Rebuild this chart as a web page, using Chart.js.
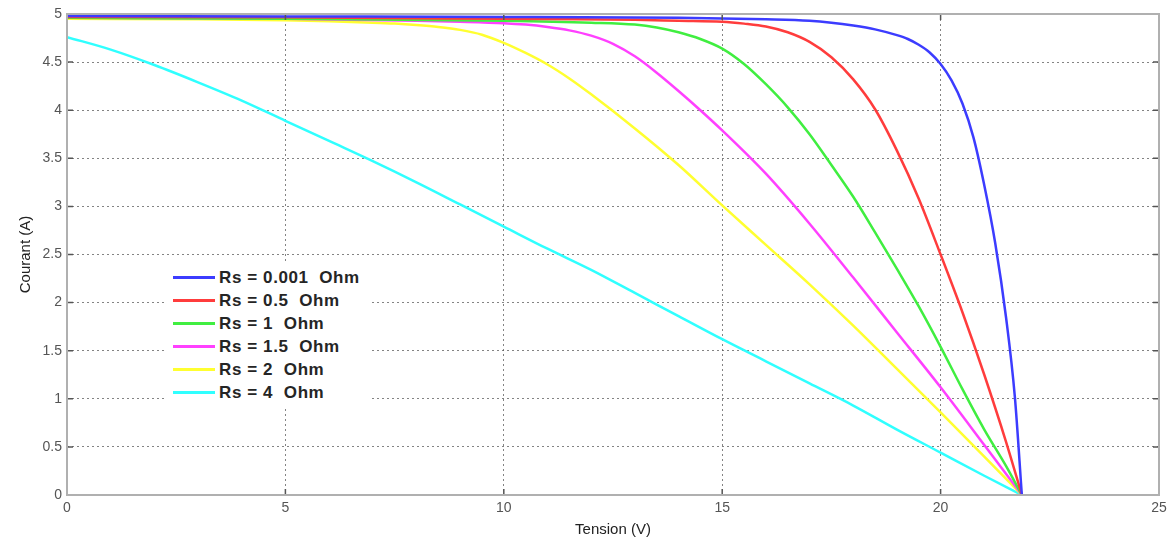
<!DOCTYPE html>
<html lang="fr">
<head>
  <meta charset="UTF-8">
  <title>Courant - Tension selon Rs</title>
  <script src="https://cdn.jsdelivr.net/npm/chart.js"></script>
  <style>
    html, body { margin: 0; padding: 0; background: #fff; }
    .wrap { position: relative; width: 1174px; height: 543px; }
    #legend {
      position: absolute;
      left: 165px;
      top: 263px;
      width: 205px;
      height: 145px;
      background: #fff;
      font-family: "Liberation Sans", Arial, sans-serif;
      font-weight: bold;
      font-size: 17px;
      letter-spacing: 0.6px;
      color: #252525;
      padding-top: 3px;
      box-sizing: border-box;
    }
    #legend .row { height: 23px; display: flex; align-items: center; white-space: pre; }
    #legend .sw { width: 42px; height: 3px; margin-left: 8px; margin-right: 4px; }
  </style>
</head>
<body>
  <div class="wrap">
    <canvas id="chart" width="1174" height="543"></canvas>
    <div id="legend"></div>
  </div>

  <script>
    // Tension (V) et courant (A) relevés sur chaque courbe
    const vRs0001 = [0, 5, 10, 14, 16, 17, 17.5, 18, 18.5, 19, 19.25, 19.5, 19.75, 20, 20.25, 20.5, 20.75, 21, 21.25, 21.5, 21.7, 21.86];
    const iRs0001 = [4.98, 4.975, 4.97, 4.96, 4.945, 4.93, 4.91, 4.88, 4.84, 4.78, 4.74, 4.68, 4.60, 4.48, 4.31, 4.07, 3.72, 3.22, 2.62, 1.84, 1.02, 0];

    const vRs05 = [0, 5, 10, 13, 14, 15, 15.5, 16, 16.5, 17, 17.5, 18, 18.5, 19, 19.5, 20, 20.5, 21, 21.5, 21.86];
    const iRs05 = [4.97, 4.965, 4.95, 4.94, 4.93, 4.92, 4.90, 4.87, 4.81, 4.71, 4.55, 4.32, 4.01, 3.58, 3.08, 2.50, 1.90, 1.25, 0.55, 0];

    const vRs1 = [0, 5, 10, 12, 13, 13.5, 14, 14.5, 15, 15.5, 16, 16.5, 17, 17.5, 18, 18.5, 19, 19.5, 20, 20.5, 21, 21.5, 21.86];
    const iRs1 = [4.96, 4.95, 4.93, 4.91, 4.89, 4.86, 4.81, 4.74, 4.64, 4.48, 4.27, 4.03, 3.75, 3.43, 3.10, 2.73, 2.35, 1.96, 1.54, 1.10, 0.68, 0.30, 0];

    const vRs15 = [0, 5, 8, 9, 10, 10.5, 11, 11.5, 12, 12.5, 13, 13.5, 14, 14.5, 15, 16, 17, 18, 19, 20, 21, 21.86];
    const iRs15 = [4.96, 4.95, 4.93, 4.92, 4.905, 4.89, 4.865, 4.83, 4.775, 4.69, 4.56, 4.39, 4.20, 4.00, 3.79, 3.34, 2.82, 2.26, 1.69, 1.12, 0.52, 0];

    const vRs2 = [0, 3, 5, 6, 7, 7.5, 8, 8.5, 9, 9.5, 10, 10.5, 11, 11.5, 12, 13, 14, 15, 16, 17, 18, 19, 20, 21, 21.86];
    const iRs2 = [4.95, 4.945, 4.935, 4.925, 4.91, 4.90, 4.885, 4.865, 4.835, 4.785, 4.70, 4.595, 4.475, 4.33, 4.165, 3.81, 3.43, 3.01, 2.60, 2.19, 1.76, 1.31, 0.86, 0.40, 0];

    const vRs4 = [0, 1, 2, 3, 4, 5, 6, 7, 8, 9, 10, 11, 12, 13, 14, 15, 16, 17, 18, 19, 20, 21, 21.86];
    const iRs4 = [4.76, 4.63, 4.47, 4.29, 4.10, 3.89, 3.68, 3.47, 3.25, 3.02, 2.79, 2.56, 2.34, 2.10, 1.86, 1.62, 1.39, 1.16, 0.93, 0.68, 0.44, 0.20, 0];

    const labels = ['Rs = 0.001  Ohm', 'Rs = 0.5  Ohm', 'Rs = 1  Ohm', 'Rs = 1.5  Ohm', 'Rs = 2  Ohm', 'Rs = 4  Ohm'];
    const colors = ['#3c3cff', '#ff3c3c', '#40ee40', '#ff40ff', '#ffff30', '#30ffff'];
    const volts = [vRs0001, vRs05, vRs1, vRs15, vRs2, vRs4];
    const currents = [iRs0001, iRs05, iRs1, iRs15, iRs2, iRs4];

    // cadre gris + petites graduations intérieures façon matlab
    const framePlugin = {
      id: 'frame',
      afterDraw(chart) {
        const { ctx, chartArea: a, scales } = chart;
        ctx.save();
        ctx.strokeStyle = '#555';
        ctx.lineWidth = 1.5;
        ctx.beginPath();
        scales.y.ticks.forEach(t => {
          const y = scales.y.getPixelForValue(t.value);
          ctx.moveTo(a.left, y); ctx.lineTo(a.left + 6, y);
          ctx.moveTo(a.right, y); ctx.lineTo(a.right - 6, y);
        });
        scales.x.ticks.forEach(t => {
          const x = scales.x.getPixelForValue(t.value);
          ctx.moveTo(x, a.bottom); ctx.lineTo(x, a.bottom - 6);
          ctx.moveTo(x, a.top); ctx.lineTo(x, a.top + 6);
        });
        ctx.stroke();
        ctx.strokeStyle = '#b0b0b0';
        ctx.lineWidth = 2;
        ctx.strokeRect(a.left, a.top, a.right - a.left, a.bottom - a.top);
        ctx.restore();
      }
    };

    const tickFont = { family: 'Liberation Sans', size: 14 };

    const chart = new Chart(document.getElementById('chart').getContext('2d'), {
      type: 'line',
      data: {
        datasets: currents.map((arr, k) => ({
          label: labels[k],
          data: arr.map((c, i) => ({ x: volts[k][i], y: c })),
          borderColor: colors[k],
          borderWidth: 2.5,
          pointRadius: 0,
          cubicInterpolationMode: 'monotone',
          fill: false
        }))
      },
      options: {
        responsive: false,
        animation: false,
        layout: { padding: { top: 14, right: 15, left: 0, bottom: 0 } },
        scales: {
          x: {
            type: 'linear',
            min: 0, max: 25,
            ticks: { stepSize: 5, color: '#555', padding: 5, font: tickFont, callback: v => String(v) },
            grid: { color: 'rgba(90,90,90,0.75)', drawTicks: false },
            border: { display: false, dash: [2, 3] },
            title: { display: true, text: 'Tension (V)', color: '#222', padding: { top: 2, bottom: 4 }, font: { family: 'Liberation Sans', size: 15 } },
            afterFit(s) { s.height = 48; }
          },
          y: {
            min: 0, max: 5,
            ticks: { stepSize: 0.5, color: '#555', padding: 5, font: tickFont, callback: v => String(v) },
            grid: { color: 'rgba(90,90,90,0.75)', drawTicks: false },
            border: { display: false, dash: [2, 3] },
            title: { display: true, text: 'Courant (A)', color: '#222', padding: { top: 17, bottom: 2 }, font: { family: 'Liberation Sans', size: 15 } },
            afterFit(s) { s.width = 67; }
          }
        },
        plugins: { legend: { display: false }, tooltip: { enabled: false } }
      },
      plugins: [framePlugin]
    });

    // légende html construite depuis les datasets
    const leg = document.getElementById('legend');
    chart.data.datasets.forEach(ds => {
      const row = document.createElement('div');
      row.className = 'row';
      row.innerHTML = '<span class="sw" style="background:' + ds.borderColor + '"></span>' + ds.label;
      leg.appendChild(row);
    });
  </script>
</body>
</html>
